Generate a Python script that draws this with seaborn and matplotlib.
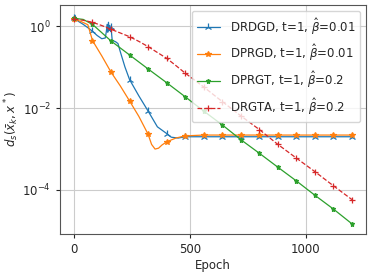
import numpy as np
import matplotlib
matplotlib.use("Agg")
import matplotlib.pyplot as plt
from matplotlib.ticker import NullLocator
import seaborn as sns

sns.set_style("ticks", {"axes.grid": True})
plt.rcParams["font.family"] = ["DejaVu Sans"]
plt.rcParams["font.size"] = 8.5

# --- values (distance vs epoch) ---
epoch_drdgd = [0, 5, 10, 20, 40, 60, 80, 100, 120, 135, 140, 143, 146, 149, 152,
               155, 158, 160, 165, 180, 190, 200, 220, 240, 280, 320, 360, 400,
               420, 450, 480, 560, 640, 720, 800, 880, 960, 1040, 1120, 1200]
dist_drdgd = [1.58, 1.86, 1.45, 1.32, 1.12, 0.93, 0.76, 0.60, 0.50, 0.52, 0.76,
              1.12, 0.72, 1.26, 0.79, 1.05, 0.76, 0.95, 0.46, 0.42, 0.38, 0.24,
              0.102, 0.050, 0.020, 0.0085, 0.0035, 0.0024, 0.00195, 0.00186,
              0.0020, 0.0020, 0.0020, 0.0020, 0.0020, 0.0020, 0.0020, 0.0020,
              0.0020, 0.0020]

epoch_dprgd = [0, 30, 60, 80, 120, 160, 200, 240, 280, 320, 335, 350, 365, 380,
               400, 440, 480, 560, 640, 720, 800, 880, 960, 1040, 1120, 1200]
dist_dprgd = [1.51, 1.32, 1.10, 0.45, 0.19, 0.076, 0.035, 0.015, 0.0063, 0.0023,
              0.0013, 0.0010, 0.00105, 0.00126, 0.0015, 0.00186, 0.0021, 0.0022,
              0.0022, 0.0022, 0.0022, 0.0022, 0.0022, 0.0022, 0.0022, 0.0022]

epoch_dprgt = [0, 40, 80, 160, 240, 320, 400, 480, 560, 640, 720, 800, 880, 960,
               1040, 1120, 1200]
dist_dprgt = [1.58, 1.48, 1.12, 0.44, 0.20, 0.091, 0.042, 0.019, 0.0085, 0.0039,
              0.0017, 0.00079, 0.00036, 0.000166, 0.000074, 0.000034, 0.0000148]

epoch_drgta = [0, 40, 80, 120, 160, 200, 240, 280, 320, 360, 400, 440, 480, 560,
               640, 720, 800, 880, 960, 1040, 1120, 1200]
dist_drgta = [1.51, 1.41, 1.26, 1.05, 0.85, 0.69, 0.56, 0.43, 0.32, 0.23, 0.166,
              0.11, 0.072, 0.033, 0.0145, 0.0065, 0.0030, 0.0013, 0.0006, 0.00028,
              0.000126, 0.000058]

series = [
    ("DRDGD, t=1, $\\hat{\\beta}$=0.01", epoch_drdgd, dist_drdgd, "#1f77b4", "2", "-", 6),
    ("DPRGD, t=1, $\\hat{\\beta}$=0.01", epoch_dprgd, dist_dprgd, "#ff7f0e", "*", "-", 4),
    ("DPRGT, t=1, $\\hat{\\beta}$=0.2", epoch_dprgt, dist_dprgt, "#2ca02c", "*", "-", 3.6),
    ("DRGTA, t=1, $\\hat{\\beta}$=0.2", epoch_drgta, dist_drgta, "#d62728", "+", "--", 4),
]

fig, ax = plt.subplots(figsize=(3.73, 2.75), dpi=100)
fig.subplots_adjust(left=0.161, right=0.981, bottom=0.148, top=0.982)

for label, ep, d, color, mk, ls, ms in series:
    ep = np.array(ep)
    sns.lineplot(x=ep, y=d, ax=ax, label=label, color=color, linestyle=ls,
                 marker=mk, markersize=ms, markeredgewidth=0.9,
                 markeredgecolor=color, markerfacecolor=color,
                 markevery=list(np.where(ep % 80 == 0)[0]),
                 linewidth=0.9, sort=False, estimator=None)

ax.set_yscale("log")
ax.set_yticks([1, 1e-2, 1e-4])
ax.yaxis.set_minor_locator(NullLocator())
ax.set_xticks([0, 500, 1000])
ax.set_xlabel("Epoch", labelpad=2)
ax.set_ylabel(r"$d_s(\bar{x}_k, x^*)$", labelpad=1)
ax.grid(True, color="#cccccc", linewidth=0.8)
for s in ax.spines.values():
    s.set_color("#555555")
ax.tick_params(length=3)
ax.legend(loc="upper right", fontsize=8.5, framealpha=0.8)

fig.savefig("out.png", dpi=100)
